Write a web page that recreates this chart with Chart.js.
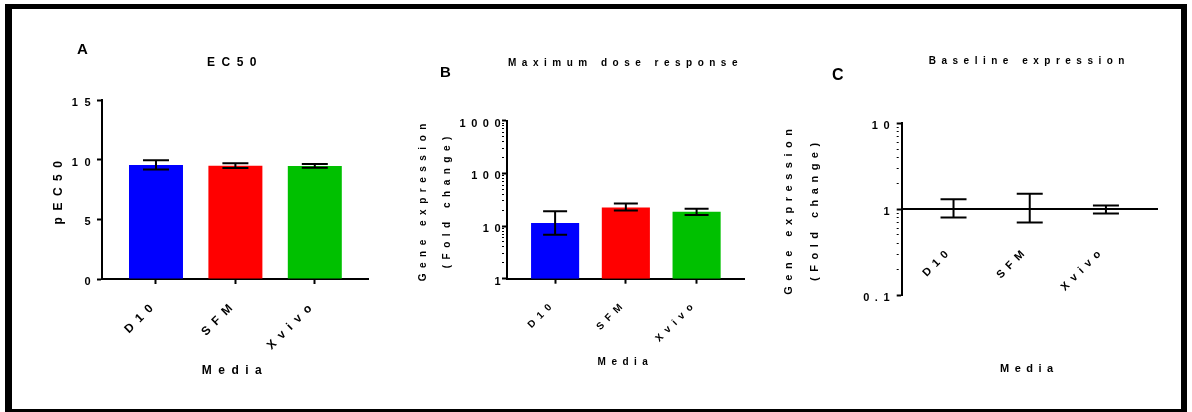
<!DOCTYPE html>
<html>
<head>
<meta charset="utf-8">
<script src="https://cdn.jsdelivr.net/npm/chart.js@4.4.1/dist/chart.umd.min.js"></script>
<style>
  body { margin: 0; background: #fff; }
  #page { position: relative; width: 1192px; height: 412px; overflow: hidden; }
  #frame { position: absolute; left: 5px; top: 4px; width: 1182px; height: 408px; box-sizing: border-box;
           border-style: solid; border-color: #000; border-width: 5px 6px 3px 7px; }
  .tag { position: absolute; font: bold 15px "Liberation Sans", Arial, sans-serif; line-height: 15px; color: #000; }
  canvas { position: absolute; top: 0; }
</style>
</head>
<body>
<div id="page">
  <div id="frame"></div>
  <canvas id="ec50" width="400" height="412" style="left:0"></canvas>
  <canvas id="maxdose" width="370" height="412" style="left:400px"></canvas>
  <canvas id="baseline" width="410" height="412" style="left:770px"></canvas>
  <div class="tag" style="left:77px;top:41px">A</div>
  <div class="tag" style="left:440px;top:64px">B</div>
  <div class="tag" style="left:832px;top:67px;font-size:16px;line-height:16px">C</div>
</div>
<script>
const FONT = '"Liberation Sans", Arial, sans-serif';

const media = ['D10', 'SFM', 'Xvivo'];
const barColors = ['#0000ff', '#ff0000', '#00c000'];

// EC50 panel: mean pEC50 with error limits
const pec50 = [9.56, 9.50, 9.47];
const pec50Low = [9.18, 9.31, 9.33];
const pec50High = [9.96, 9.71, 9.63];
const pec50Ticks = [0, 5, 10, 15];

// maximum dose response, fold change
const maxFold = [11.4, 22.6, 18.7];
const maxFoldLow = [6.85, 19.8, 16.2];
const maxFoldHigh = [19.0, 26.9, 21.3];
const maxFoldTicks = [1, 10, 100, 1000];

// baseline expression, fold change
const baseFold = [1, 1, 1];
const baseFoldLow = [0.80, 0.70, 0.89];
const baseFoldHigh = [1.30, 1.51, 1.10];
const baseFoldTicks = [0.1, 1, 10];

Chart.defaults.font.family = FONT;
Chart.defaults.color = '#000';
Chart.defaults.animation = false;

const bold = (size, lineHeight = 1.2) => ({ family: FONT, size, weight: 'bold', lineHeight });

// 1..9 ticks inside every decade of a log axis
const withMinor = decades => decades.slice(0, -1)
  .flatMap(d => [1, 2, 3, 4, 5, 6, 7, 8, 9].map(k => +(k * d).toPrecision(6)))
  .concat(decades[decades.length - 1]);

// wide letter spacing on every text of a chart
const spacing = px => ({
  id: 'spacing',
  beforeLayout: chart => { chart.ctx.letterSpacing = px + 'px'; },
  beforeDraw: chart => { chart.ctx.letterSpacing = px + 'px'; }
});

// whiskers with caps, drawn through the chart's scales
const errorBars = (low, high, cap) => ({
  id: 'errorBars',
  afterDatasetsDraw(chart) {
    const { ctx, scales: { x, y } } = chart;
    ctx.save();
    ctx.strokeStyle = '#000';
    ctx.lineWidth = 2;
    low.forEach((lo, i) => {
      const px = x.getPixelForValue(i);
      const top = y.getPixelForValue(high[i]);
      const bottom = y.getPixelForValue(lo);
      ctx.beginPath();
      ctx.moveTo(px, top); ctx.lineTo(px, bottom);
      ctx.moveTo(px - cap / 2, top); ctx.lineTo(px + cap / 2, top);
      ctx.moveTo(px - cap / 2, bottom); ctx.lineTo(px + cap / 2, bottom);
      ctx.stroke();
    });
    ctx.restore();
  }
});

function xAxis(o) {
  return {
    type: 'linear', min: -0.68, max: 2.67, bounds: 'data', offset: false,
    position: o.position || 'bottom',
    afterBuildTicks: s => { s.ticks = media.map((m, i) => ({ value: i })); },
    afterFit: s => { s.height = o.height; },
    ticks: { autoSkip: false, minRotation: 45, maxRotation: 45, padding: o.pad, labelOffset: o.shift,
             font: bold(o.tick), color: '#000', callback: v => media[v] },
    grid: { offset: false, drawOnChartArea: false, drawTicks: o.marks !== false, tickLength: 5,
            tickColor: '#000', tickWidth: 2 },
    border: { color: '#000', width: 2 },
    title: { display: true, text: 'Media', color: '#000', font: bold(o.titleSize), padding: { top: 0, bottom: o.titlePad } }
  };
}

function yAxis(o) {
  const major = v => o.labels.includes(v);
  return {
    type: o.type, min: o.min, max: o.max,
    afterBuildTicks: s => { s.ticks = o.ticks.map(v => ({ value: v })); },
    afterFit: s => { s.width = o.width; },
    ticks: { autoSkip: false, padding: o.pad, labelOffset: o.shift, font: bold(o.tick), color: '#000',
             callback: v => major(v) ? String(v) : '' },
    grid: { drawOnChartArea: false, tickLength: 5, tickColor: '#000',
            tickWidth: c => (c.tick && !major(c.tick.value)) ? 1 : 2,
            tickBorderDash: c => (c.tick && !major(c.tick.value)) ? [2, 10] : [] },
    border: { color: '#000', width: 2 },
    title: { display: true, text: o.title, color: '#000', font: bold(o.titleSize, o.lh || 1.2),
             padding: { top: o.titlePad, bottom: 0 } }
  };
}

const noChrome = { legend: { display: false }, tooltip: { enabled: false } };

new Chart(document.getElementById('ec50'), {
  type: 'bar',
  data: { datasets: [{ data: pec50.map((v, i) => ({ x: i, y: v })), backgroundColor: barColors,
                       borderWidth: 0, barPercentage: 0.68, categoryPercentage: 1 }] },
  options: {
    responsive: false,
    layout: { padding: { top: 0, right: 32, bottom: 0, left: 0 } },
    plugins: { ...noChrome,
      title: { display: true, text: 'EC50', fullSize: false, color: '#000', font: bold(12), padding: { top: 55, bottom: 30.6 } } },
    scales: {
      x: xAxis({ height: 133, tick: 12, pad: 13, shift: 0, titleSize: 12, titlePad: 33.8 }),
      y: yAxis({ type: 'linear', min: 0, max: 15, ticks: pec50Ticks, labels: pec50Ticks, width: 102,
                 tick: 11, pad: 0, shift: 3, title: 'pEC50', titleSize: 12, titlePad: 51 })
    }
  },
  plugins: [spacing(6.5), errorBars(pec50Low, pec50High, 26)]
});

new Chart(document.getElementById('maxdose'), {
  type: 'bar',
  data: { datasets: [{ data: maxFold.map((v, i) => ({ x: i, y: v })), backgroundColor: barColors,
                       borderWidth: 0, barPercentage: 0.68, categoryPercentage: 1 }] },
  options: {
    responsive: false,
    layout: { padding: { top: 0, right: 26, bottom: 0, left: 0 } },
    plugins: { ...noChrome,
      title: { display: true, text: 'Maximum dose response', fullSize: false, color: '#000', font: bold(10),
               padding: { top: 57, bottom: 51.7 } } },
    scales: {
      x: xAxis({ height: 133.3, tick: 10, pad: 14, shift: -1, titleSize: 10, titlePad: 44 }),
      y: yAxis({ type: 'logarithmic', min: 1, max: 1000, ticks: withMinor(maxFoldTicks), labels: maxFoldTicks,
                 width: 107, tick: 11, pad: -4, shift: 3, title: ['Gene expression', '(Fold change)'],
                 titleSize: 10, lh: 2.4, titlePad: 11 })
    }
  },
  plugins: [spacing(5.5), errorBars(maxFoldLow, maxFoldHigh, 24)]
});

new Chart(document.getElementById('baseline'), {
  type: 'scatter',
  data: { datasets: [{ data: baseFold.map((v, i) => ({ x: i, y: v })), pointRadius: 0, showLine: false }] },
  options: {
    responsive: false,
    layout: { padding: { top: 0, right: 23, bottom: 117, left: 0 } },
    plugins: { ...noChrome,
      title: { display: true, text: 'Baseline expression', fullSize: false, color: '#000', font: bold(10),
               padding: { top: 55.7, bottom: 55.6 } } },
    scales: {
      x: xAxis({ position: { y: 1 }, marks: false, height: 166, tick: 11, pad: 35, shift: -3, titleSize: 11, titlePad: 0 }),
      y: yAxis({ type: 'logarithmic', min: 0.1, max: 10, ticks: withMinor(baseFoldTicks), labels: baseFoldTicks,
                 width: 131.7, tick: 11, pad: 1.7, shift: 2.5, title: ['Gene expression', '(Fold change)'],
                 titleSize: 11, lh: 26 / 11, titlePad: 5.5 })
    }
  },
  plugins: [spacing(5.5), errorBars(baseFoldLow, baseFoldHigh, 26)]
});
</script>
</body>
</html>
